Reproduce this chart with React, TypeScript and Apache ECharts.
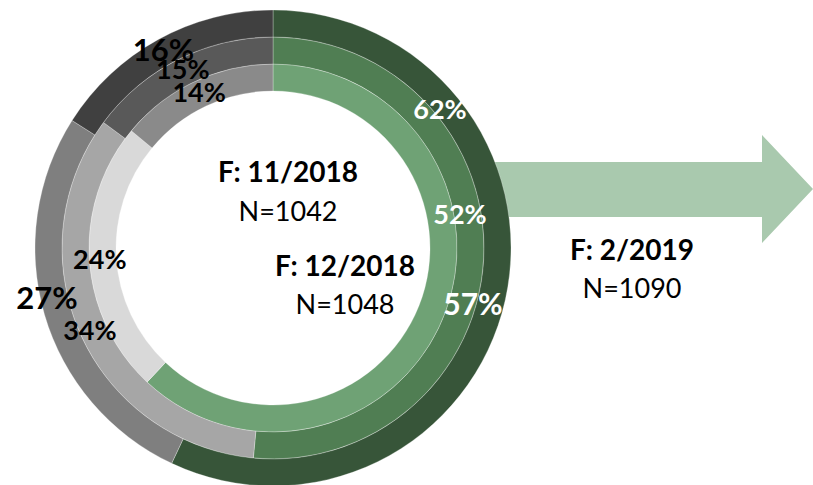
import React, { useEffect, useRef } from 'react';
import * as echarts from 'echarts';

const categories = ['Gruppe A', 'Gruppe B', 'Gruppe C'];
const waves = ['F: 11/2018', 'F: 12/2018', 'F: 2/2019'];
const sampleSizes = ['N=1042', 'N=1048', 'N=1090'];
const values1118 = [62, 24, 14];
const values1218 = [52, 34, 15];
const values0219 = [57, 27, 16];

const ringValues = [values1118, values1218, values0219];
const ringColors = [
  ['#6fa275', '#d9d9d9', '#8a8a8a'],
  ['#507e53', '#a6a6a6', '#595959'],
  ['#375539', '#7f7f7f', '#404040'],
];
const ringRadii = [[157, 184], [184, 211], [211, 238]];
const center = [273, 248];
// label placement overrides [ring-item] -> [x, y]
const labelOverrides: Record<string, [number, number]> = {
  '0-0': [440, 108],
  '1-0': [460, 213],
  '2-0': [473, 303],
  '2-1': [47, 297],
};
const labelSizes = [
  [27, 27, 27],
  [27, 27, 27],
  [30, 31, 31],
];
const waveTextPos = [[288, 171, 210], [345, 265, 303], [632, 249, 287]];

const FONT = 'Lato, "Open Sans", sans-serif';

export default function App() {
  const ref = useRef<HTMLDivElement>(null);
  useEffect(() => {
    if (!ref.current) return;
    const chart = echarts.init(ref.current, undefined, { renderer: 'svg' });
    const series = ringValues.map((vals, ri) => ({
      type: 'pie',
      name: waves[ri],
      center,
      radius: ringRadii[ri],
      startAngle: 90,
      clockwise: true,
      silent: true,
      data: vals.map((v, i) => ({
        name: categories[i],
        value: v,
        itemStyle: { color: ringColors[ri][i] },
        label: {
          color: i === 0 ? '#ffffff' : '#000000',
          fontSize: labelSizes[ri][i],
        },
      })),
      itemStyle: { borderColor: 'rgba(255,255,255,0.35)', borderWidth: 0.8 },
      label: {
        show: true,
        position: 'inside',
        formatter: '{c}%',
        fontFamily: FONT,
        fontWeight: 'bold',
        overflow: 'none',
      },
      labelLine: { show: false },
      labelLayout: (params: any) => {
        const key = `${ri}-${params.dataIndex}`;
        const p = labelOverrides[key];
        if (p) return { x: p[0], y: p[1] };
        return {};
      },
    }));
    const texts: any[] = [];
    waves.forEach((w, i) => {
      texts.push({
        type: 'text',
        x: waveTextPos[i][0],
        y: waveTextPos[i][1],
        z: 10,
        style: {
          text: w,
          fontFamily: FONT,
          fontWeight: 'bold',
          fontSize: 28,
          fill: '#000',
          textAlign: 'center',
          textVerticalAlign: 'middle',
        },
      });
      texts.push({
        type: 'text',
        x: waveTextPos[i][0],
        y: waveTextPos[i][2],
        z: 10,
        style: {
          text: sampleSizes[i],
          fontFamily: FONT,
          fontSize: 27,
          fill: '#000',
          textAlign: 'center',
          textVerticalAlign: 'middle',
        },
      });
    });
    chart.setOption({
      animation: false,
      backgroundColor: '#ffffff',
      graphic: [
        {
          type: 'polygon',
          z: 0,
          silent: true,
          shape: {
            points: [
              [480, 162], [762, 162], [762, 135], [813, 189], [762, 243], [762, 217], [480, 217],
            ],
          },
          style: { fill: '#a9c9ae' },
        },
        ...texts,
      ],
      series,
    });
    return () => chart.dispose();
  }, []);
  return (
    <div
      ref={ref}
      style={{ position: 'absolute', left: 0, top: 0, width: 813, height: 485 }}
    />
  );
}
